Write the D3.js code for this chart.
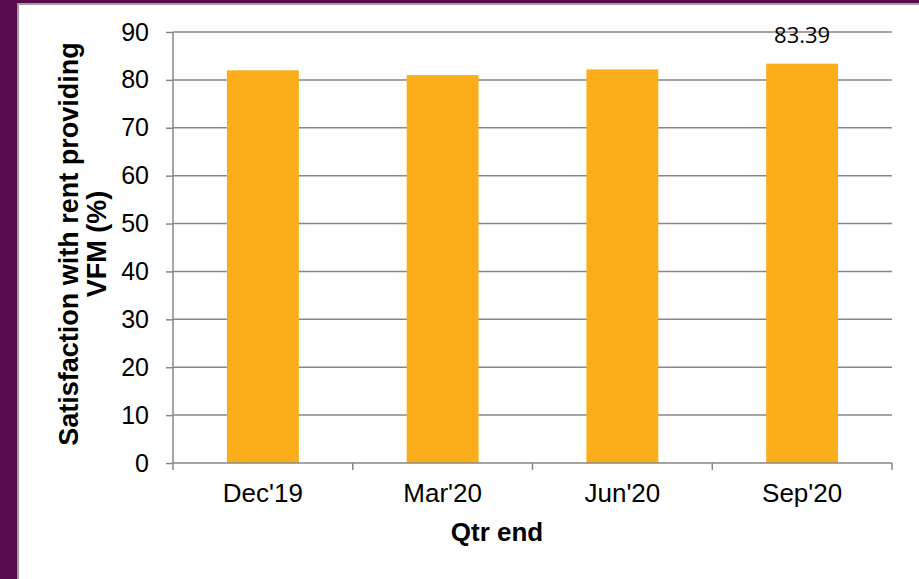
<!DOCTYPE html>
<html lang="en">
  <head>
    <meta charset="UTF-8" />
    <title>Satisfaction with rent providing VFM</title>
    <script src="https://d3js.org/d3.v7.min.js"></script>
    <style>
      body {
        margin: 0;
        background: #fff;
      }
      svg {
        display: block;
      }
    </style>
  </head>
  <body>
    <svg id="chart" width="919" height="579"></svg>
    <script>
      // data
      const categories = ["Dec'19", "Mar'20", "Jun'20", "Sep'20"];
      const values = [82.0, 81.0, 82.2, 83.39];
      const yTicks = [0, 10, 20, 30, 40, 50, 60, 70, 80, 90];
      const labelled = ["Sep'20"]; // only this bar carries a data label

      const data = categories.map((c, i) => ({ category: c, value: values[i] }));

      const svg = d3.select("#chart");
      const font = "'Liberation Sans', Arial, sans-serif";

      // purple frame on the left and top
      svg.append("rect").attr("width", 919).attr("height", 579).attr("fill", "#fff");
      svg.append("rect").attr("x", 0).attr("y", 0).attr("width", 17).attr("height", 579).attr("fill", "#5a0a4e");
      svg.append("rect").attr("x", 0).attr("y", 0).attr("width", 919).attr("height", 3).attr("fill", "#5a0a4e");
      svg.append("line").attr("x1", 18).attr("x2", 18).attr("y1", 3).attr("y2", 579)
        .attr("stroke", "#a0a0a0").attr("stroke-width", 2);
      svg.append("line").attr("x1", 17).attr("x2", 919).attr("y1", 4).attr("y2", 4)
        .attr("stroke", "#a0a0a0").attr("stroke-width", 2);

      const margin = { left: 173, top: 32, right: 27, bottom: 116 };
      const width = 892 - margin.left;
      const height = 463 - margin.top;

      const g = svg.append("g").attr("transform", `translate(${margin.left},${margin.top})`);

      const x = d3.scaleBand().domain(categories).range([0, width]).padding(0);
      const y = d3.scaleLinear().domain([0, 90]).range([height, 0]);
      const barW = x.bandwidth() * 0.4;

      // gridlines
      g.append("g")
        .selectAll("line")
        .data(yTicks.filter((d) => d > 0))
        .join("line")
        .attr("x1", 0)
        .attr("x2", width)
        .attr("y1", (d) => y(d))
        .attr("y2", (d) => y(d))
        .attr("stroke", "#878787")
        .attr("stroke-width", 1.5);

      // bars
      g.selectAll("rect.bar")
        .data(data)
        .join("rect")
        .attr("class", "bar")
        .attr("x", (d) => x(d.category) + (x.bandwidth() - barW) / 2)
        .attr("y", (d) => y(d.value))
        .attr("width", barW)
        .attr("height", (d) => height - y(d.value))
        .attr("fill", "#fbae1a");

      // y axis
      const yAxis = g.append("g")
        .call(d3.axisLeft(y).tickValues(yTicks).tickSize(7).tickPadding(17));
      yAxis.select(".domain").attr("stroke", "#878787").attr("stroke-width", 1.5).attr("d", `M0,${height}V0`);
      yAxis.selectAll(".tick line").attr("stroke", "#878787").attr("stroke-width", 1.5);
      yAxis.selectAll(".tick text")
        .attr("font-family", font).attr("font-size", 25).attr("fill", "#000");

      // x axis: ticks at category boundaries
      const xAxisG = g.append("g").attr("transform", `translate(0,${height})`);
      xAxisG.append("line").attr("x1", 0).attr("x2", width)
        .attr("stroke", "#878787").attr("stroke-width", 1.5);
      const bounds = categories.map((c) => x(c)).concat([width]);
      xAxisG.selectAll("line.tk")
        .data(bounds)
        .join("line")
        .attr("class", "tk")
        .attr("x1", (d) => d).attr("x2", (d) => d)
        .attr("y1", 0).attr("y2", 7)
        .attr("stroke", "#878787").attr("stroke-width", 1.5);
      xAxisG.selectAll("text")
        .data(categories)
        .join("text")
        .attr("x", (d) => x(d) + x.bandwidth() / 2)
        .attr("y", 39)
        .attr("text-anchor", "middle")
        .attr("font-family", font)
        .attr("font-size", 26)
        .text((d) => d);

      // data label
      g.selectAll("text.lbl")
        .data(data.filter((d) => labelled.includes(d.category)))
        .join("text")
        .attr("class", "lbl")
        .attr("x", (d) => x(d.category) + x.bandwidth() / 2)
        .attr("y", 43 - margin.top)
        .attr("text-anchor", "middle")
        .attr("font-family", "'Open Sans', 'Noto Sans', sans-serif")
        .attr("font-size", 22)
        .text((d) => d.value.toFixed(2));

      // axis titles
      svg.append("text")
        .attr("x", 497)
        .attr("y", 541)
        .attr("text-anchor", "middle")
        .attr("font-family", font)
        .attr("font-weight", "bold")
        .attr("font-size", 26)
        .text("Qtr end");

      const yTitle = svg.append("text")
        .attr("transform", "translate(0,244) rotate(-90)")
        .attr("text-anchor", "middle")
        .attr("font-family", font)
        .attr("font-weight", "bold")
        .attr("font-size", 27);
      yTitle.append("tspan").attr("x", 0).attr("y", 78).text("Satisfaction with rent providing");
      yTitle.append("tspan").attr("x", 0).attr("y", 106).text("VFM (%)");
    </script>
  </body>
</html>
